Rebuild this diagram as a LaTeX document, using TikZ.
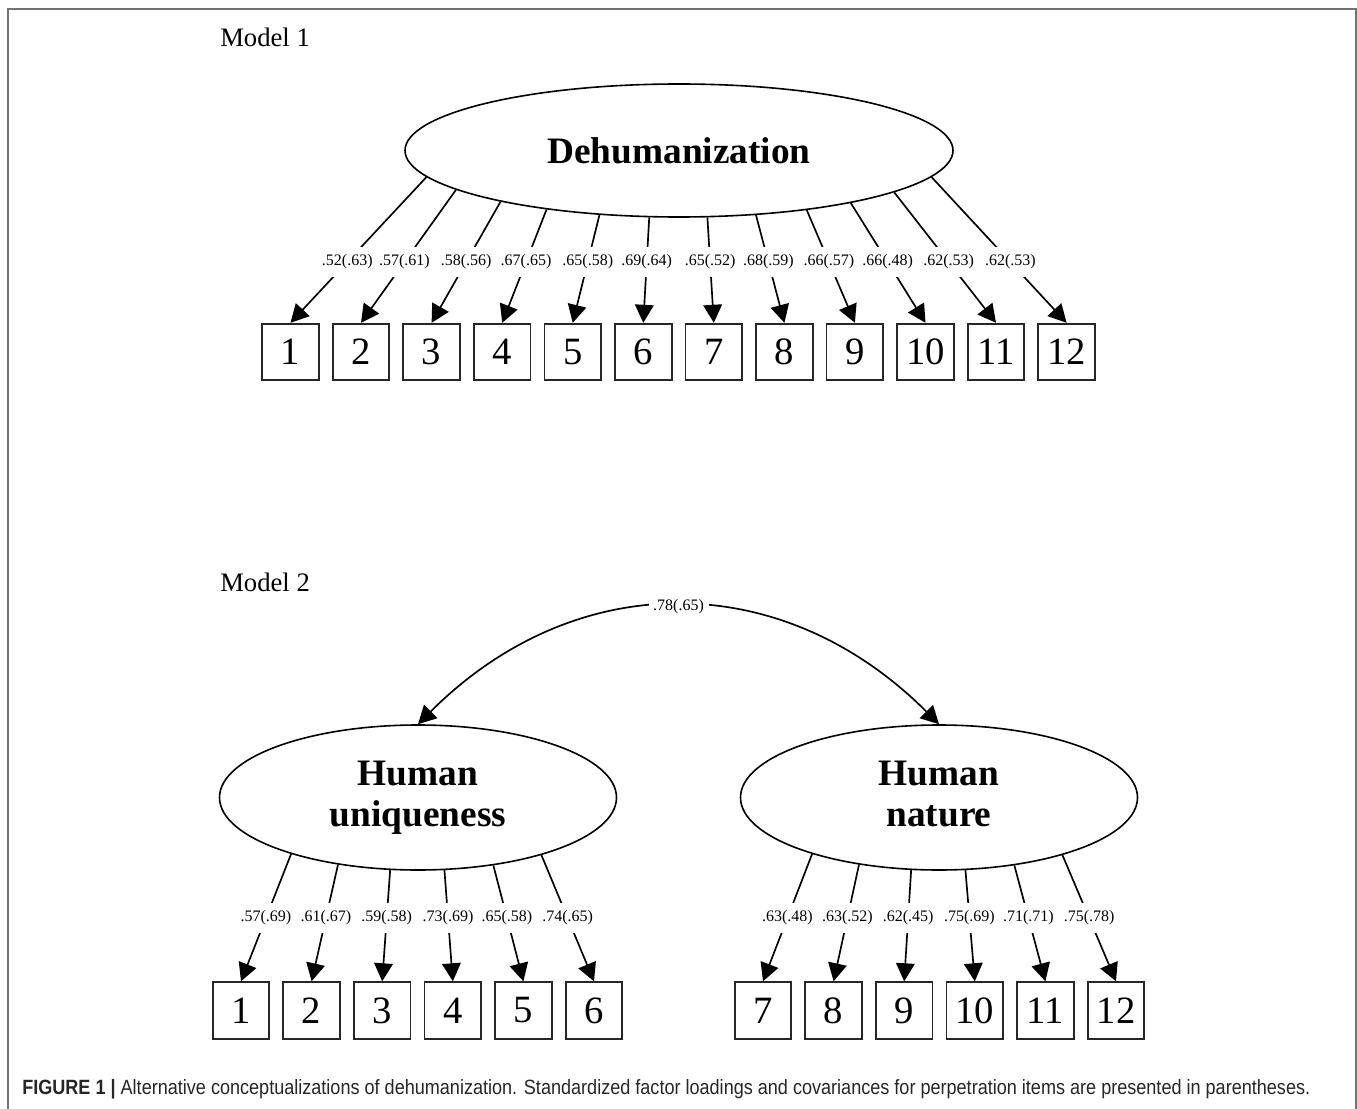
\documentclass[tikz,border=0pt]{standalone}
\usepackage{fontspec}
\setmainfont{Liberation Serif}
\newfontfamily\capfont{Liberation Sans}
\usetikzlibrary{arrows.meta,shapes.geometric}
\begin{document}
\begin{tikzpicture}[x=0.75pt,y=-0.75pt,
  box/.style={draw=black!85, line width=1.3pt, minimum size=42.5pt, inner sep=0pt, font=\fontsize{29}{29}\selectfont},
  latent/.style={ellipse, draw, line width=1.2pt, inner sep=0pt, align=center, font=\fontsize{28}{31}\selectfont\bfseries},
  lab/.style={fill=white, inner xsep=3pt, inner ysep=6pt, font=\fontsize{12}{12}\selectfont},
  load/.style={line width=1.25pt, -{Triangle[length=13.5pt,width=14pt]}},
  cov/.style={line width=1.25pt, {Triangle[length=13.5pt,width=14pt]}-{Triangle[length=13.5pt,width=14pt]}},
  ttl/.style={anchor=base west, font=\fontsize{20}{20}\selectfont, inner sep=0pt},
]
\useasboundingbox (0,0) rectangle (1357,1109);
\draw[black!55, line width=1.5pt] (8,1109) -- (8,9) -- (1356,9) -- (1356,1109);

% ---------------- Model 1 ----------------
\node[ttl] (m1) at (220,47) {Model 1};
\node[latent, minimum width=411pt, minimum height=99.75pt] (D) at (679,150.5) {Dehumanization};

\foreach \i/\x in {1/290.5,2/361,3/431.6,4/502.2,5/572.7,6/643.3,7/713.8,8/784.4,9/854.9,10/925.5,11/996,12/1066.6}
  \node[box] (a\i) at (\x,352) {\i};

\foreach \i/\a/\l in {1/186/.52(.63), 2/190.5/.57(.61), 3/196.3/.58(.56),
    4/204.8/.67(.65), 5/219.7/.65(.58), 6/246.5/.69(.64),
    7/293.5/.65(.52), 8/320.3/.68(.59), 9/335.2/.66(.57),
    10/343.7/.66(.48), 11/349.5/.62(.53), 12/354.2/.62(.53)}
{
  \draw[load] (D.\a) -- (a\i.north);
  \node[lab] (la\i) at (intersection of D.\a--a\i.north and 0,262--1357,262) {\l};
}

% ---------------- Model 2 ----------------
\node[ttl] (m2) at (220,591) {Model 2};
\node[latent, minimum width=297.75pt, minimum height=108.75pt] (HU) at (418,797.5) {Human\\uniqueness};
\node[latent, minimum width=297.75pt, minimum height=108.75pt] (HN) at (939,797.5) {Human\\nature\vphantom{q}};

\foreach \i/\x in {1/241,2/311.6,3/382.2,4/452.8,5/523.4,6/594,7/763,8/833.6,9/904.2,10/974.8,11/1045.4,12/1116}
  \node[box] (b\i) at (\x,1010.5) {\i};

\foreach \i/\a/\l in {1/204.4/.57(.69), 2/220.9/.61(.67), 3/249.8/.59(.58),
    4/290.2/.73(.69), 5/318.7/.65(.58), 6/335.5/.74(.65)}
{
  \draw[load] (HU.\a) -- (b\i.north);
  \node[lab] (lb\i) at (intersection of HU.\a--b\i.north and 0,918--1357,918) {\l};
}

\foreach \i/\a/\l in {7/204.4/.63(.48), 8/220.9/.63(.52), 9/249.8/.62(.45),
    10/290.2/.75(.69), 11/318.7/.71(.71), 12/335.5/.75(.78)}
{
  \draw[load] (HN.\a) -- (b\i.north);
  \node[lab] (lb\i) at (intersection of HN.\a--b\i.north and 0,918--1357,918) {\l};
}

\draw[cov] (HU.north) .. controls +(157,-157) and +(-157,-157) .. (HN.north)
  node[lab, pos=0.5, inner ysep=2pt, inner xsep=3.5pt] (c) {.78(.65)};

% ---------------- Caption ----------------
\node[anchor=base west, inner sep=0pt, text=black!85] (cap) at (22,1094)
  {\resizebox{966pt}{\height}{\capfont\fontsize{15.5}{15.5}\selectfont\textbf{FIGURE 1 |} Alternative conceptualizations of dehumanization. Standardized factor loadings and covariances for perpetration items are presented in parentheses.}};
\end{tikzpicture}
\end{document}
